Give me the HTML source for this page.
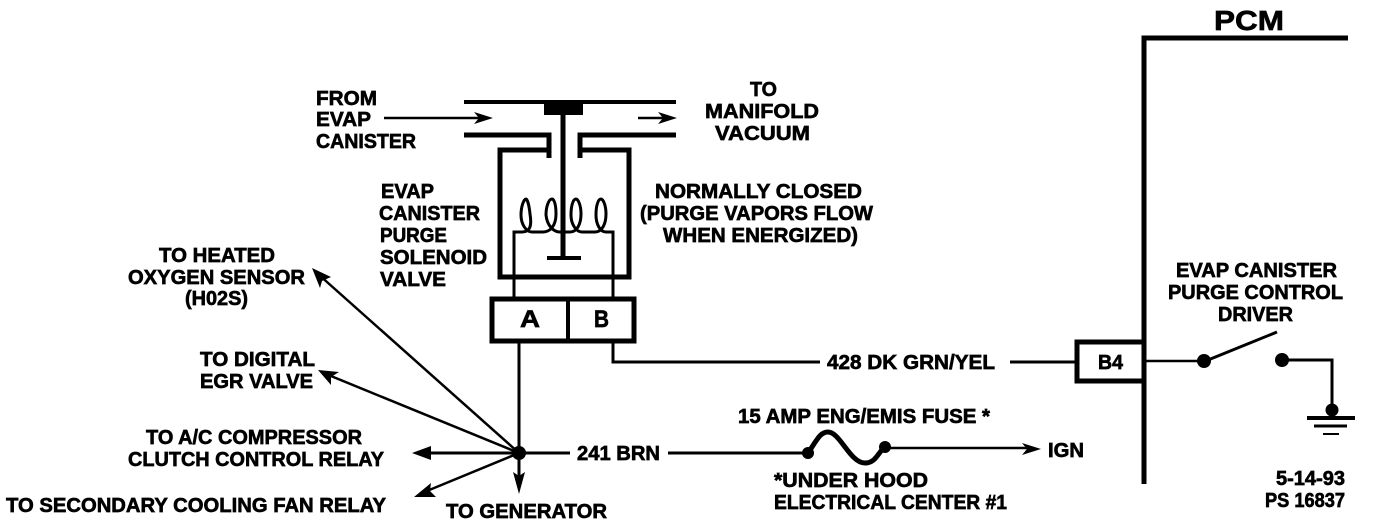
<!DOCTYPE html>
<html><head><meta charset="utf-8"><style>
html,body{margin:0;padding:0;background:#fff;width:1376px;height:524px;overflow:hidden}
svg{display:block}
text{font-family:"Liberation Sans",sans-serif;font-weight:bold;font-size:20px;fill:#000;stroke:#000;stroke-width:.65}
</style></head><body>
<svg width="1376" height="524" viewBox="0 0 1376 524">
<g fill="none" stroke="#000" stroke-linecap="butt">
<!-- valve -->
<path d="M464 102H676" stroke-width="4"/>
<path d="M464 135H549V158M676 135H580V158" stroke-width="5"/>
<path d="M547 150H500V277H629V150H580" stroke-width="5"/>
<path d="M563 115V258" stroke-width="5"/>
<path d="M547 258H581" stroke-width="4"/>
<path d="M384 118H480" stroke-width="2.5"/>
<path d="M638 118H672" stroke-width="2.5"/>
<!-- coil -->
<path d="M514 298V232H522C530 232 532 226 530 214C529 204 527 199 526 199C524 199 521 206 521 215C521 224 526 232 532 232H543C550 232 556 226 556 214C556 204 554 199 552 199C549 199 546 206 546 215C547 225 553 232 560 232H570C577 232 581 224 581 214C581 205 578 199 576 199C573 199 571 206 571 215C571 224 576 232 582 232H595C602 232 606 224 606 214C606 205 603 199 601 199C598 199 596 206 596 215C596 224 600 232 606 232H613V298" stroke-width="3"/>
<!-- connector -->
<rect x="492" y="299" width="142" height="42" stroke-width="5"/>
<path d="M568 299V341" stroke-width="4"/>
<path d="M519 342V478" stroke-width="3"/>
<path d="M613 342V362H820" stroke-width="3"/>
<path d="M1010 362H1075" stroke-width="3"/>
<!-- PCM -->
<path d="M1348 38H1144V484" stroke-width="5"/>
<path d="M1144 342H1077V381H1144" stroke-width="5"/>
<path d="M1144 361H1205" stroke-width="2.5"/>
<path d="M1208 360L1277 332" stroke-width="3"/>
<path d="M1282 360H1332V410" stroke-width="3"/>
<path d="M1307 418H1355" stroke-width="4"/>
<path d="M1314 426H1347" stroke-width="3"/>
<path d="M1323 434H1339" stroke-width="2"/>
<!-- branches -->
<path d="M519 453L318 274" stroke-width="2.5"/>
<path d="M519 453L326 374" stroke-width="2.5"/>
<path d="M519 453H420" stroke-width="3"/>
<path d="M519 453L422 493" stroke-width="2.5"/>
<path d="M519 453H570" stroke-width="3"/>
<path d="M668 453H808" stroke-width="3"/>
<path d="M808 453C817 440 820 432 828 432C840 432 850 463 865 463C876 463 878 452 885 447" stroke-width="5"/>
<path d="M885 448H1030" stroke-width="2.5"/>
</g>
<g fill="#000" stroke="none">
<rect x="544" y="102" width="39" height="13"/>
<path d="M493 118L474 112L479 118L474 124Z"/>
<path d="M677 118L658 112L663 118L658 124Z"/>
<path d="M1041 449L1022 443L1027 449L1022 455Z"/>
<path d="M312 268L331 277L322 281L320 288Z"/>
<path d="M318 370L339 372L331 377L331 385Z"/>
<path d="M412 453L431 446V460Z"/>
<path d="M414 497L431 483L430 491L436 497Z"/>
<path d="M519 494L513 472L519 476L525 472Z"/>
<circle cx="519" cy="453" r="7"/>
<circle cx="1204" cy="361" r="7"/>
<circle cx="1282" cy="360" r="7"/>
<circle cx="1332" cy="410" r="6.5"/>
<circle cx="808" cy="453" r="6"/>
<circle cx="885" cy="447" r="6"/>
</g>
<text x="316" y="105" textLength="61" lengthAdjust="spacingAndGlyphs">FROM</text>
<text x="316" y="126" textLength="55" lengthAdjust="spacingAndGlyphs">EVAP</text>
<text x="316" y="148" textLength="100" lengthAdjust="spacingAndGlyphs">CANISTER</text>
<text x="750" y="96" textLength="27" lengthAdjust="spacingAndGlyphs">TO</text>
<text x="705" y="118" textLength="114" lengthAdjust="spacingAndGlyphs">MANIFOLD</text>
<text x="715" y="140" textLength="95" lengthAdjust="spacingAndGlyphs">VACUUM</text>
<text x="381" y="198" textLength="53" lengthAdjust="spacingAndGlyphs">EVAP</text>
<text x="379" y="220" textLength="101" lengthAdjust="spacingAndGlyphs">CANISTER</text>
<text x="380" y="242" textLength="67" lengthAdjust="spacingAndGlyphs">PURGE</text>
<text x="380" y="264" textLength="107" lengthAdjust="spacingAndGlyphs">SOLENOID</text>
<text x="380" y="286" textLength="66" lengthAdjust="spacingAndGlyphs">VALVE</text>
<text x="655" y="198" textLength="207" lengthAdjust="spacingAndGlyphs">NORMALLY CLOSED</text>
<text x="640" y="220" textLength="233" lengthAdjust="spacingAndGlyphs">(PURGE VAPORS FLOW</text>
<text x="663" y="242" textLength="195" lengthAdjust="spacingAndGlyphs">WHEN ENERGIZED)</text>
<text x="159" y="262" textLength="116" lengthAdjust="spacingAndGlyphs">TO HEATED</text>
<text x="128" y="284" textLength="177" lengthAdjust="spacingAndGlyphs">OXYGEN SENSOR</text>
<text x="185" y="305" textLength="63" lengthAdjust="spacingAndGlyphs">(H02S)</text>
<text x="200" y="366" textLength="115" lengthAdjust="spacingAndGlyphs">TO DIGITAL</text>
<text x="200" y="388" textLength="113" lengthAdjust="spacingAndGlyphs">EGR VALVE</text>
<text x="146" y="444" textLength="216" lengthAdjust="spacingAndGlyphs">TO A/C COMPRESSOR</text>
<text x="128" y="466" textLength="256" lengthAdjust="spacingAndGlyphs">CLUTCH CONTROL RELAY</text>
<text x="6" y="512" textLength="380" lengthAdjust="spacingAndGlyphs">TO SECONDARY COOLING FAN RELAY</text>
<text x="446" y="518" textLength="161" lengthAdjust="spacingAndGlyphs">TO GENERATOR</text>
<text x="577" y="460" textLength="83" lengthAdjust="spacingAndGlyphs">241 BRN</text>
<text x="827" y="369" textLength="168" lengthAdjust="spacingAndGlyphs">428 DK GRN/YEL</text>
<text x="738" y="423" textLength="252" lengthAdjust="spacingAndGlyphs">15 AMP ENG/EMIS FUSE *</text>
<text x="774" y="487" textLength="154" lengthAdjust="spacingAndGlyphs">*UNDER HOOD</text>
<text x="774" y="509" textLength="233" lengthAdjust="spacingAndGlyphs">ELECTRICAL CENTER #1</text>
<text x="1048" y="457" textLength="36" lengthAdjust="spacingAndGlyphs">IGN</text>
<text x="1176" y="277" textLength="161" lengthAdjust="spacingAndGlyphs">EVAP CANISTER</text>
<text x="1168" y="299" textLength="175" lengthAdjust="spacingAndGlyphs">PURGE CONTROL</text>
<text x="1218" y="321" textLength="75" lengthAdjust="spacingAndGlyphs">DRIVER</text>
<text x="1098" y="369" textLength="25" lengthAdjust="spacingAndGlyphs">B4</text>
<text x="1214" y="30" textLength="70" lengthAdjust="spacingAndGlyphs" style="font-size:28px">PCM</text>
<text x="1276" y="485" textLength="69" lengthAdjust="spacingAndGlyphs">5-14-93</text>
<text x="1265" y="507" textLength="80" lengthAdjust="spacingAndGlyphs">PS 16837</text>
<text x="520" y="327" textLength="20" lengthAdjust="spacingAndGlyphs" style="font-size:24px">A</text>
<text x="594" y="327" textLength="15" lengthAdjust="spacingAndGlyphs" style="font-size:24px">B</text>
</svg>
</body></html>
